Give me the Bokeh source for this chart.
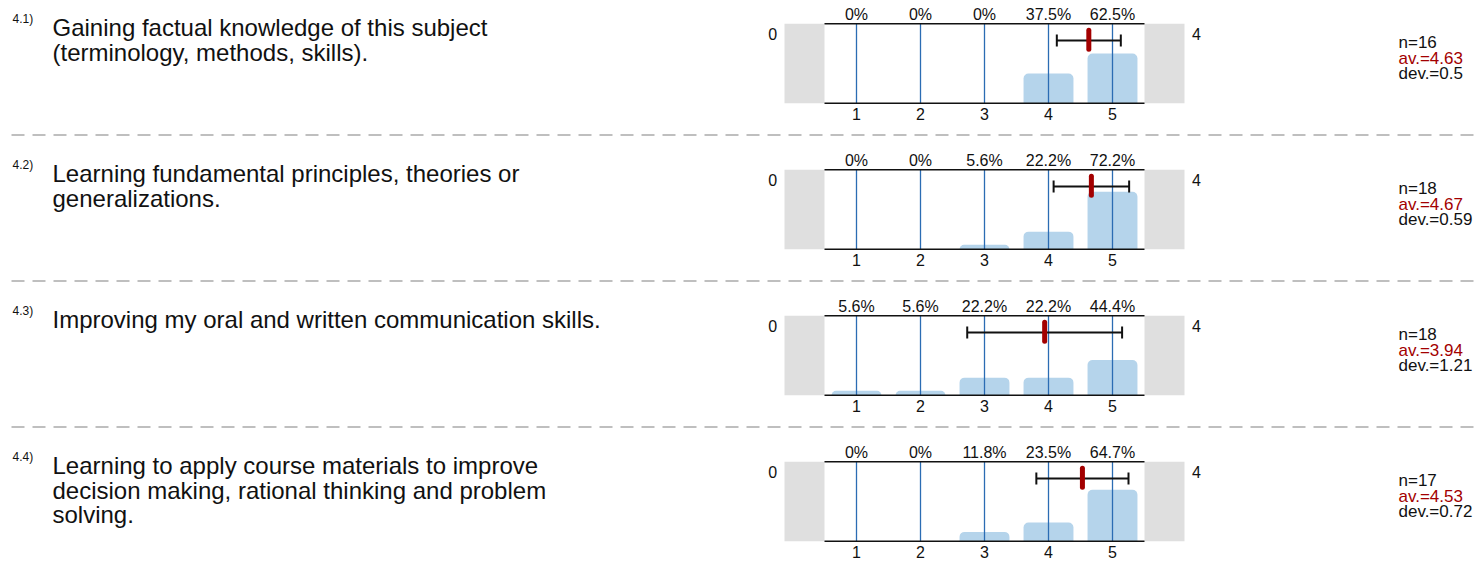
from bokeh.plotting import figure
from bokeh.models import Range1d
from bokeh.core.properties import value
from bokeh.embed import file_html
from bokeh.resources import INLINE

# ---------------- data ----------------
q_ids = ["4.1)", "4.2)", "4.3)", "4.4)"]
questions = [
    "Gaining factual knowledge of this subject\n(terminology, methods, skills).",
    "Learning fundamental principles, theories or\ngeneralizations.",
    "Improving my oral and written communication skills.",
    "Learning to apply course materials to improve\ndecision making, rational thinking and problem\nsolving.",
]
categories = [1, 2, 3, 4, 5]
pct_41 = [0, 0, 0, 37.5, 62.5]
pct_42 = [0, 0, 5.6, 22.2, 72.2]
pct_43 = [5.6, 5.6, 22.2, 22.2, 44.4]
pct_44 = [0, 0, 11.8, 23.5, 64.7]
percents = [pct_41, pct_42, pct_43, pct_44]
n_vals = [16, 18, 18, 17]
av_vals = [4.63, 4.67, 3.94, 4.53]
dev_vals = [0.5, 0.59, 1.21, 0.72]
left_counts = [0, 0, 0, 0]
right_counts = [4, 4, 4, 4]

# ---------------- layout constants ----------------
W, H = 1475, 561
X0, Y0 = 0, 0
PX1, STEP = 856.0, 64.0          # pixel of category 1, pixels per category
ROW_TOP0, ROW_STEP, FH = 23.2, 146.0, 79.6
FONT = value("Liberation Sans")
BAR_COLOR = "#b5d4eb"
LINE_BLUE = "#2b6cb3"
RED = "#a30000"
TXT = "#111111"

p = figure(width=W, height=H,
           x_range=Range1d(X0, X0 + W), y_range=Range1d(Y0 + H, Y0),
           output_backend="svg", toolbar_location=None, min_border=0,
           x_axis_location=None, y_axis_location=None,
           outline_line_color=None, background_fill_color="white",
           border_fill_color="white")
p.grid.visible = False

cat_start = (X0 - PX1) / STEP + 1
cat_end = (X0 + W - PX1) / STEP + 1
p.extra_x_ranges = {"cat": Range1d(cat_start, cat_end)}

for i in range(4):
    top = ROW_TOP0 + i * ROW_STEP
    bot = top + FH
    rname = f"pct{i}"
    p.extra_y_ranges[rname] = Range1d((bot - (Y0 + H)) * 100 / FH, (bot - Y0) * 100 / FH)
    vals = percents[i]

    # grey side boxes
    p.quad(left=[-0.125, 5.5], right=[0.5, 6.125], bottom=[0, 0], top=[100, 100],
           fill_color="#dfdfdf", line_color=None,
           x_range_name="cat", y_range_name=rname)
    # bars
    p.vbar(x=categories, top=vals, bottom=0, width=0.78,
           fill_color=BAR_COLOR, line_color=None, border_radius=(5, 5, 0, 0),
           x_range_name="cat", y_range_name=rname)
    # vertical blue lines
    p.segment(x0=categories, x1=categories, y0=[0] * 5, y1=[100] * 5,
              line_color=LINE_BLUE, line_width=1.3,
              x_range_name="cat", y_range_name=rname)
    # frame top/bottom lines
    p.segment(x0=[0.5, 0.5], x1=[5.5, 5.5], y0=[0, 100], y1=[0, 100],
              line_color=TXT, line_width=1.5,
              x_range_name="cat", y_range_name=rname)

    # percent labels above
    p.text(x=categories, y=[top - 9.3] * 5, text=[f"{v:g}%" for v in vals],
           text_font=FONT, text_font_size="16px", text_color=TXT,
           text_align="center", text_baseline="middle", x_range_name="cat")
    # tick labels below
    p.text(x=categories, y=[bot + 10.2] * 5, text=[str(c) for c in categories],
           text_font=FONT, text_font_size="16px", text_color=TXT,
           text_align="center", text_baseline="middle", x_range_name="cat")
    # side counts
    p.text(x=[-0.31, 6.31], y=[top + 10.5] * 2,
           text=[str(left_counts[i]), str(right_counts[i])],
           text_font=FONT, text_font_size="16px", text_color=TXT,
           text_align="center", text_baseline="middle", x_range_name="cat")

    # error bar (mean +/- dev)
    m, d = av_vals[i], dev_vals[i]
    ey = top + 16.8
    p.segment(x0=[m - d], x1=[m + d], y0=[ey], y1=[ey],
              line_color=TXT, line_width=2, x_range_name="cat")
    p.segment(x0=[m - d, m + d], x1=[m - d, m + d], y0=[ey - 6, ey - 6], y1=[ey + 6, ey + 6],
              line_color=TXT, line_width=2, x_range_name="cat")
    p.segment(x0=[m], x1=[m], y0=[top + 6.5], y1=[top + 25.5],
              line_color=RED, line_width=5, line_cap="round", x_range_name="cat")

    # question texts
    p.text(x=[12], y=[top - 4.5], text=[q_ids[i]], text_font=FONT,
           text_font_size="12px", text_color=TXT,
           text_align="left", text_baseline="middle")
    p.text(x=[52], y=[top - 9.3], text=[questions[i]], text_font=FONT,
           text_font_size="24px", text_color=TXT, text_line_height=0.9,
           text_align="left", text_baseline="top")

    # stats on the right
    p.text(x=[1398, 1398, 1398], y=[top + 19, top + 34.5, top + 50],
           text=[f"n={n_vals[i]}", f"av.={av_vals[i]:g}", f"dev.={dev_vals[i]:g}"],
           text_color=[TXT, RED, TXT],
           text_font=FONT, text_font_size="17px",
           text_align="left", text_baseline="middle")

    # dashed separator
    if i < 3:
        sy = top + 111.3
        p.line(x=[11, X0 + W], y=[sy, sy], line_color="#aaaaaa", line_width=1.5,
               line_dash="13 8")

open("out.html", "w").write(file_html(p, INLINE))
